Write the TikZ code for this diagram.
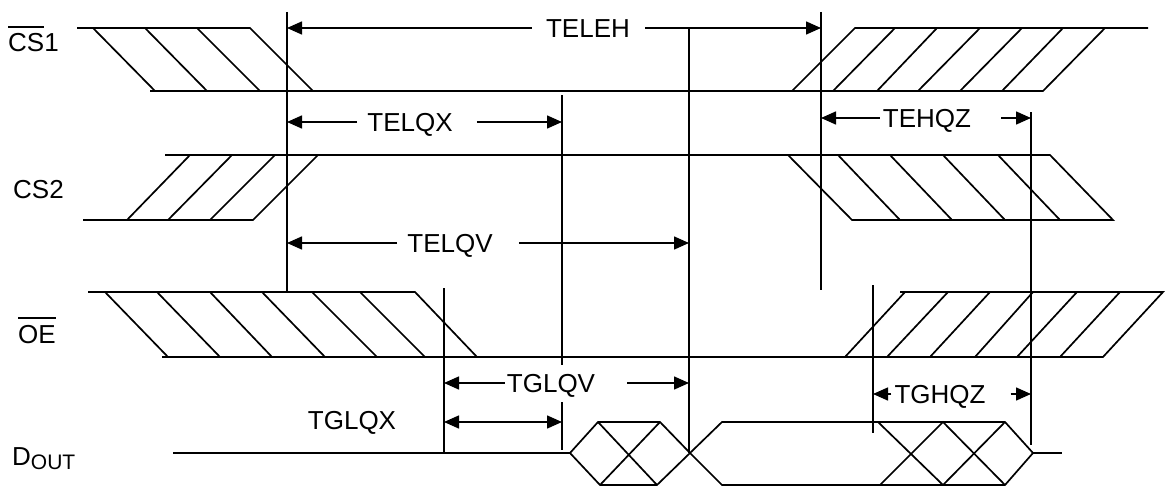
\documentclass[tikz,border=0pt]{standalone}
\usepackage{fontspec}
\setmainfont{Liberation Sans}
\usetikzlibrary{arrows.meta}
\newcommand\myovl[1]{\setbox0=\hbox{#1}\rlap{\rule[\dimexpr\ht0+6pt\relax]{\wd0}{1.5pt}}\box0\relax}
\begin{document}
\begin{tikzpicture}[x=1pt,y=-1pt,
  wave/.style={line width=1.7pt,line join=miter},
  vline/.style={line width=1.6pt},
  dimline/.style={line width=1.5pt},
  tip/.style={-{Triangle[length=15pt,width=13pt]}},
  bothtips/.style={{Triangle[length=15pt,width=13pt]}-{Triangle[length=15pt,width=13pt]}},
  lab/.style={font=\fontsize{26}{30}\selectfont,inner sep=0pt,text height=18.6pt,text depth=0pt,anchor=center},
  sig/.style={font=\fontsize{26}{30}\selectfont,inner sep=0pt,anchor=base west}]
\useasboundingbox (0,0) rectangle (1165,487);

% signal names
\node[sig] (ncs1) at (8,52) {\myovl{CS}1};
\node[sig] (ncs2) at (13,198) {CS2};
\node[sig] (noe) at (18,343) {\myovl{OE}};
\node[sig] (ndout) at (12,465) {D{\fontsize{21}{24}\selectfont\raisebox{-4pt}{OUT}}};

% CS1
\draw[wave] (77,28) -- (250,28) -- (313,91);
\draw[wave] (150,91) -- (1043,91) -- (1105,28);
\draw[wave] (792,91) -- (855,28) -- (1148,28);
\foreach \a/\b in {93/155,145/207,197/260} \draw[wave] (\a,28) -- (\b,91);
\foreach \a/\b in {833/895,877/937,918/980,960/1022,1002/1063} \draw[wave] (\a,91) -- (\b,28);

% CS2
\draw[wave] (83,220) -- (253,220) -- (318,155);
\draw[wave] (165,155) -- (1050,155) -- (1113,220) -- (852,220) -- (788,155);
\foreach \a/\b in {127/190,168/232,210/275} \draw[wave] (\a,220) -- (\b,155);
\foreach \a/\b in {838/900,890/952,943/1005,998/1060} \draw[wave] (\a,155) -- (\b,220);

% OE
\draw[wave] (88,292) -- (415,292) -- (477,357);
\draw[wave] (162,357) -- (1103,357) -- (1163,292) -- (900,292);
\foreach \a/\b in {105/168,157/220,210/272,262/325,312/377,360/425} \draw[wave] (\a,292) -- (\b,357);
\foreach \a/\b in {845/905,887/948,930/990,975/1033,1017/1077,1060/1120} \draw[wave] (\a,357) -- (\b,292);

% DOUT
\draw[wave] (173,453) -- (570,453);
\draw[wave] (570,453) -- (598,422) -- (660,422) -- (690,453) -- (657,485) -- (600,485) -- cycle;
\draw[wave] (598,422) -- (657,485) (600,485) -- (660,422);
\draw[wave] (690,453) -- (722,422) -- (1005,422) -- (1033,453) -- (1005,485) -- (722,485) -- cycle;
\draw[wave] (878,422) -- (943,485) (880,485) -- (943,422) -- (1005,485) (943,485) -- (1005,422);
\draw[wave] (1033,453) -- (1062,453);

% timing marker lines
\coordinate (A1) at (287,12);   \coordinate (A2) at (287,292);
\coordinate (B1) at (689,28);   \coordinate (B2) at (689,453);
\coordinate (C1) at (821,12);   \coordinate (C2) at (821,290);
\coordinate (D1) at (562,95);   \coordinate (D2) at (562,365);
\coordinate (D3) at (562,402);  \coordinate (D4) at (562,450);
\coordinate (E1) at (1031,112); \coordinate (E2) at (1031,445);
\coordinate (F1) at (444,288);  \coordinate (F2) at (444,453);
\coordinate (G1) at (873,285);  \coordinate (G2) at (873,433);
\foreach \p in {A,B,C,D,E,F,G} \draw[vline] (\p1) -- (\p2);
\draw[vline] (D3) -- (D4);

% dimension arrows
\node[lab] (teleh) at (588,28) {TELEH};
\draw[dimline,tip] ([xshift=-14pt]teleh.west) -- (teleh.west -| A1);
\draw[dimline,tip] ([xshift=15pt]teleh.east) -- (teleh.east -| C1);

\node[lab] (telqx) at (410,122) {TELQX};
\draw[dimline,tip] ([xshift=-10pt]telqx.west) -- (telqx.west -| A1);
\draw[dimline,tip] ([xshift=24pt]telqx.east) -- (telqx.east -| D1);

\node[lab] (tehqz) at (927,118) {TEHQZ};
\draw[dimline,tip] ([xshift=-3pt]tehqz.west) -- (tehqz.west -| C1);
\draw[dimline,tip] ([xshift=30pt]tehqz.east) -- (tehqz.east -| E1);

\node[lab] (telqv) at (450,243) {TELQV};
\draw[dimline,tip] ([xshift=-10pt]telqv.west) -- (telqv.west -| A1);
\draw[dimline,tip] ([xshift=26pt]telqv.east) -- (telqv.east -| B1);

\node[lab] (tglqv) at (551,383) {TGLQV};
\draw[dimline,tip] ([xshift=-2pt]tglqv.west) -- (tglqv.west -| F1);
\draw[dimline,tip] ([xshift=32pt]tglqv.east) -- (tglqv.east -| B1);

\node[lab] (tghqz) at (940,394) {TGHQZ};
\draw[dimline,tip] ([xshift=-3pt]tghqz.west) -- (tghqz.west -| G1);
\draw[dimline,tip] ([xshift=25pt]tghqz.east) -- (tghqz.east -| E1);

\node[lab] (tglqx) at (352,420) {TGLQX};
\coordinate (xl) at (444,422);
\draw[dimline,bothtips] (xl) -- (xl -| D3);
\end{tikzpicture}
\end{document}
